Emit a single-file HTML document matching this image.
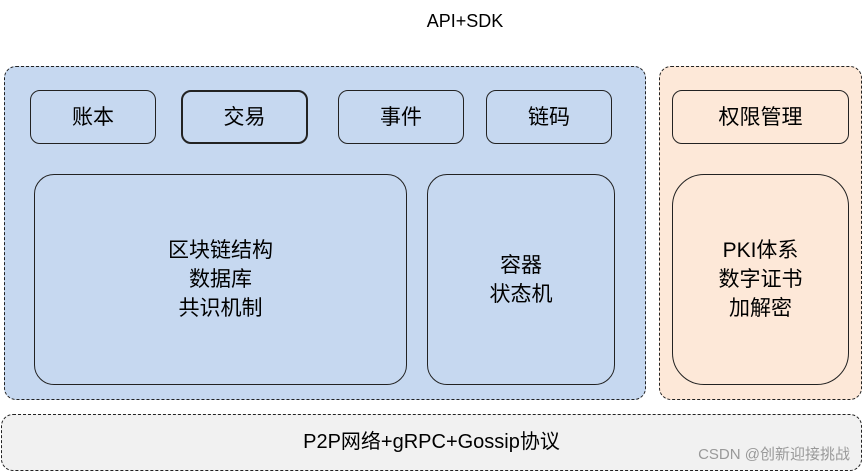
<!DOCTYPE html>
<html><head><meta charset="utf-8"><style>
body{margin:0;width:863px;height:473px;background:#fff;position:relative;overflow:hidden;font-family:"Liberation Sans","Noto Sans CJK SC",sans-serif;color:#000}
div.b{position:absolute;box-sizing:border-box;display:flex;align-items:center;justify-content:center;text-align:center;font-size:21px;line-height:29px}
.d{border:1.5px dashed #222;border-radius:12px}
.s{border:1.5px solid #222;border-radius:10px;background:#c6d8f0}
</style></head><body>
<div class="b" style="left:380px;top:6px;width:170px;height:30px;font-size:18px">API+SDK</div>
<div class="b d" style="left:4px;top:66px;width:642px;height:334px;background:#c6d8f0"></div>
<div class="b d" style="left:659px;top:66px;width:203px;height:334px;background:#fde8d8"></div>
<div class="b d" style="left:1px;top:414px;width:861px;height:57px;background:#f1f1f1;font-size:20px">P2P网络+gRPC+Gossip协议</div>
<div class="b s" style="left:30px;top:90px;width:126px;height:54px">账本</div>
<div class="b s" style="left:181px;top:90px;width:127px;height:54px;border-width:2.5px">交易</div>
<div class="b s" style="left:338px;top:90px;width:126px;height:54px">事件</div>
<div class="b s" style="left:486px;top:90px;width:126px;height:54px">链码</div>
<div class="b s" style="left:672px;top:90px;width:177px;height:54px;background:#fde8d8">权限管理</div>
<div class="b s" style="left:34px;top:174px;width:373px;height:211px;border-radius:20px">区块链结构<br>数据库<br>共识机制</div>
<div class="b s" style="left:427px;top:174px;width:188px;height:211px;border-radius:20px">容器<br>状态机</div>
<div class="b s" style="left:672px;top:174px;width:177px;height:211px;border-radius:32px;background:#fde8d8">PKI体系<br>数字证书<br>加解密</div>
<div class="b" style="left:650px;top:440px;width:200px;height:28px;font-size:15px;color:#999;justify-content:flex-end">CSDN @创新迎接挑战</div>
</body></html>
